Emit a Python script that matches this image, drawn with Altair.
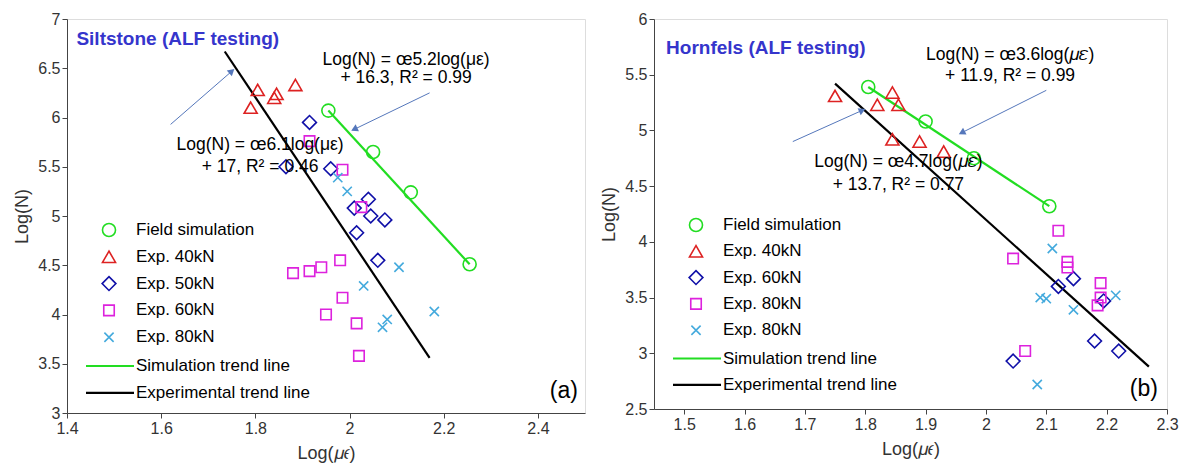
import altair as alt
import pandas as pd
import math

FONT = "Liberation Sans"

# ---------- Panel (a) data ----------
a_field_x = [1.955, 2.05, 2.13, 2.255]
a_field_y = [6.07, 5.65, 5.24, 4.51]
a_40_x = [1.79, 1.805, 1.84, 1.845, 1.885]
a_40_y = [6.10, 6.28, 6.20, 6.24, 6.33]
a_50_x = [1.865, 1.915, 1.96, 2.01, 2.04, 2.015, 2.045, 2.075, 2.06]
a_50_y = [5.50, 5.95, 5.48, 5.08, 5.17, 4.83, 5.00, 4.96, 4.55]
a_60_x = [1.915, 1.985, 2.025, 1.88, 1.915, 1.94, 1.98, 1.985, 1.95, 2.015, 2.02]
a_60_y = [5.76, 5.47, 5.09, 4.42, 4.44, 4.48, 4.55, 4.17, 4.00, 3.91, 3.58]
a_80_x = [1.975, 1.995, 2.03, 2.105, 2.07, 2.08, 2.18]
a_80_y = [5.39, 5.25, 4.29, 4.48, 3.87, 3.95, 4.03]
a_sim_line_x = [1.955, 2.255]
a_sim_line_y = [6.07, 4.51]
a_exp_line_x = [1.735, 2.17]
a_exp_line_y = [6.67, 3.56]

# ---------- Panel (b) data ----------
b_field_x = [1.805, 1.90, 1.98, 2.105]
b_field_y = [5.39, 5.08, 4.75, 4.32]
b_40_x = [1.75, 1.82, 1.845, 1.855, 1.845, 1.89, 1.93]
b_40_y = [5.31, 5.23, 5.34, 5.23, 4.92, 4.90, 4.81]
b_60_x = [2.045, 2.12, 2.145, 2.195, 2.18, 2.22]
b_60_y = [2.93, 3.60, 3.67, 3.47, 3.11, 3.02]
b_80s_x = [2.045, 2.065, 2.12, 2.135, 2.135, 2.19, 2.19, 2.185]
b_80s_y = [3.85, 3.02, 4.10, 3.82, 3.77, 3.63, 3.50, 3.43]
b_80x_x = [2.11, 2.09, 2.10, 2.145, 2.215, 2.085]
b_80x_y = [3.94, 3.50, 3.49, 3.39, 3.52, 2.72]
b_sim_line_x = [1.805, 2.105]
b_sim_line_y = [5.39, 4.32]
b_exp_line_x = [1.75, 2.27]
b_exp_line_y = [5.42, 2.88]

XPATH = "M-1,-1L1,1M-1,1L1,-1"
COL = {"field": "#22dd22", "40": "#dd2222", "50": "#1010a8", "60": "#dd22dd", "80": "#44aadd"}
ARROW = "#5577bb"
SIZES = {"circle": 170, "triangle-up": 170, "diamond": 190, "square": 110, XPATH: 85}


def panel(W, H, xdom, ydom, xticks, yticks, series, lines, title, eqs, arrows, tag, tagpos, legend_labels):
    xs = alt.Scale(domain=xdom, nice=False, zero=False)
    ys = alt.Scale(domain=ydom, nice=False, zero=False)
    xax = alt.Axis(values=xticks, grid=False, title="Log(𝜇𝜖)", titleFontSize=18, titleFontWeight="normal",
                   labelFontSize=16, titleColor="#333", labelColor="#333", tickColor="#444", domainColor="#444",
                   titlePadding=8, labelFlush=False, format="~g")
    yax = alt.Axis(values=yticks, grid=False, title="Log(N)", titleFontSize=18, titleFontWeight="normal",
                   labelFontSize=16, titleColor="#333", labelColor="#333", tickColor="#444", domainColor="#444",
                   titlePadding=6, labelFlush=False, format="~g")
    layers = []
    for (xv, yv), kind in lines:
        df = pd.DataFrame({"x": xv, "y": yv})
        layers.append(alt.Chart(df).mark_line(color=kind, strokeWidth=2.2).encode(
            x=alt.X("x:Q", scale=xs, axis=xax), y=alt.Y("y:Q", scale=ys, axis=yax)))
    for xv, yv, shape, color in series:
        df = pd.DataFrame({"x": xv, "y": yv})
        layers.append(alt.Chart(df).mark_point(shape=shape, color=color, filled=False, opacity=1,
                                               size=SIZES[shape], strokeWidth=1.6).encode(
            x=alt.X("x:Q", scale=xs, axis=xax), y=alt.Y("y:Q", scale=ys, axis=yax)))
    tdf = pd.DataFrame({"x": [title[1]], "y": [title[2]], "t": [title[0]]})
    layers.append(alt.Chart(tdf).mark_text(align="left", baseline="middle", font=FONT, fontSize=19,
                                           fontWeight="bold", color="#3535cc").encode(
        x=alt.X("x:Q", scale=xs), y=alt.Y("y:Q", scale=ys), text="t:N"))
    edf = pd.DataFrame(eqs, columns=["x", "y", "t"])
    layers.append(alt.Chart(edf).mark_text(align="center", baseline="middle", font=FONT, fontSize=17.5,
                                           color="black").encode(
        x=alt.X("x:Q", scale=xs), y=alt.Y("y:Q", scale=ys), text="t:N"))
    for (x1, y1, x2, y2) in arrows:
        adf = pd.DataFrame({"x": [x1], "y": [y1], "x2": [x2], "y2": [y2]})
        layers.append(alt.Chart(adf).mark_rule(color=ARROW, strokeWidth=1).encode(
            x=alt.X("x:Q", scale=xs), y=alt.Y("y:Q", scale=ys), x2="x2:Q", y2="y2:Q"))
        dxp = (x2 - x1) / (xdom[1] - xdom[0]) * W
        dyp = -(y2 - y1) / (ydom[1] - ydom[0]) * H
        ang = (math.degrees(math.atan2(dxp, -dyp))) % 360
        hdf = pd.DataFrame({"x": [x2], "y": [y2]})
        layers.append(alt.Chart(hdf).mark_point(shape="triangle-up", filled=True, color=ARROW, size=60,
                                                angle=ang, opacity=1).encode(
            x=alt.X("x:Q", scale=xs), y=alt.Y("y:Q", scale=ys)))
    gdf = pd.DataFrame({"x": [tagpos[0]], "y": [tagpos[1]], "t": [tag]})
    layers.append(alt.Chart(gdf).mark_text(align="right", baseline="middle", font=FONT, fontSize=23,
                                           color="black").encode(
        x=alt.X("x:Q", scale=xs), y=alt.Y("y:Q", scale=ys), text="t:N"))
    lx, ly0, step = legend_labels["pos"]
    shapes = [("circle", COL["field"]), ("triangle-up", COL["40"]), ("diamond", COL["50"]),
              ("square", COL["60"]), (XPATH, COL["80"])]
    for i, (shp, c) in enumerate(shapes):
        yy = ly0 + i * step
        layers.append(alt.Chart(pd.DataFrame({"a": [0]})).mark_point(
            shape=shp, color=c, filled=False, opacity=1, size=SIZES[shp], strokeWidth=1.6).encode(
            x=alt.value(lx), y=alt.value(yy)))
        layers.append(alt.Chart(pd.DataFrame({"t": [legend_labels["labels"][i]]})).mark_text(
            align="left", baseline="middle", font=FONT, fontSize=17, color="black").encode(
            x=alt.value(lx + 27), y=alt.value(yy), text="t:N"))
    for j, (c, lab) in enumerate([("#22dd22", "Simulation trend line"), ("black", "Experimental trend line")]):
        yy = ly0 + (5 + j) * step + 2
        layers.append(alt.Chart(pd.DataFrame({"a": [0]})).mark_rule(color=c, strokeWidth=2.2).encode(
            x=alt.value(lx - 23), x2=alt.value(lx + 25), y=alt.value(yy)))
        layers.append(alt.Chart(pd.DataFrame({"t": [lab]})).mark_text(
            align="left", baseline="middle", font=FONT, fontSize=17, color="black").encode(
            x=alt.value(lx + 27), y=alt.value(yy), text="t:N"))
    return alt.layer(*layers).properties(width=W, height=H)


pa = panel(518, 394, [1.4, 2.5], [3, 7], [1.4, 1.6, 1.8, 2, 2.2, 2.4], [3, 3.5, 4, 4.5, 5, 5.5, 6, 6.5, 7],
           [(a_field_x, a_field_y, "circle", COL["field"]), (a_40_x, a_40_y, "triangle-up", COL["40"]),
            (a_50_x, a_50_y, "diamond", COL["50"]), (a_60_x, a_60_y, "square", COL["60"]),
            (a_80_x, a_80_y, XPATH, COL["80"])],
           [((a_sim_line_x, a_sim_line_y), "#22dd22"), ((a_exp_line_x, a_exp_line_y), "black")],
           ("Siltstone (ALF testing)", 1.42, 6.8),
           [(2.12, 6.58, "Log(N) = œ5.2log(με)"), (2.12, 6.4, "+ 16.3, R² = 0.99"),
            (1.81, 5.72, "Log(N) = œ6.1log(με)"), (1.81, 5.5, "+ 17, R² = 0.46")],
           [(2.17, 6.25, 2.01, 5.88), (1.62, 5.93, 1.75, 6.47)],
           "(a)", (2.485, 3.22),
           {"pos": (42, 211, 26.8), "labels": ["Field simulation", "Exp. 40kN", "Exp. 50kN", "Exp. 60kN", "Exp. 80kN"]})

pb = panel(513, 390, [1.45, 2.3], [2.5, 6], [1.5, 1.6, 1.7, 1.8, 1.9, 2, 2.1, 2.2, 2.3],
           [2.5, 3, 3.5, 4, 4.5, 5, 5.5, 6],
           [(b_field_x, b_field_y, "circle", COL["field"]), (b_40_x, b_40_y, "triangle-up", COL["40"]),
            (b_60_x, b_60_y, "diamond", COL["50"]), (b_80s_x, b_80s_y, "square", COL["60"]),
            (b_80x_x, b_80x_y, XPATH, COL["80"])],
           [((b_sim_line_x, b_sim_line_y), "#22dd22"), ((b_exp_line_x, b_exp_line_y), "black")],
           ("Hornfels (ALF testing)", 1.47, 5.74),
           [(2.04, 5.68, "Log(N) = œ3.6log(𝜇𝜀)"), (2.04, 5.49, "+ 11.9, R² = 0.99"),
            (1.855, 4.72, "Log(N) = œ4.7log(𝜇𝜀)"), (1.855, 4.51, "+ 13.7, R² = 0.77")],
           [(2.1, 5.36, 1.96, 4.98), (1.68, 4.9, 1.795, 5.18)],
           "(b)", (2.285, 2.68),
           {"pos": (42, 206, 26.3), "labels": ["Field simulation", "Exp. 40kN", "Exp. 60kN", "Exp. 80kN", "Exp. 80kN"]})

chart = alt.hconcat(pa, pb, spacing=14).configure_view(stroke="#333", strokeWidth=1).configure(
    font=FONT, background="white").properties(padding={"top": 2, "left": 5, "right": 5, "bottom": 5})

chart.save("out.html", embed_options={"renderer": "svg", "actions": False})
